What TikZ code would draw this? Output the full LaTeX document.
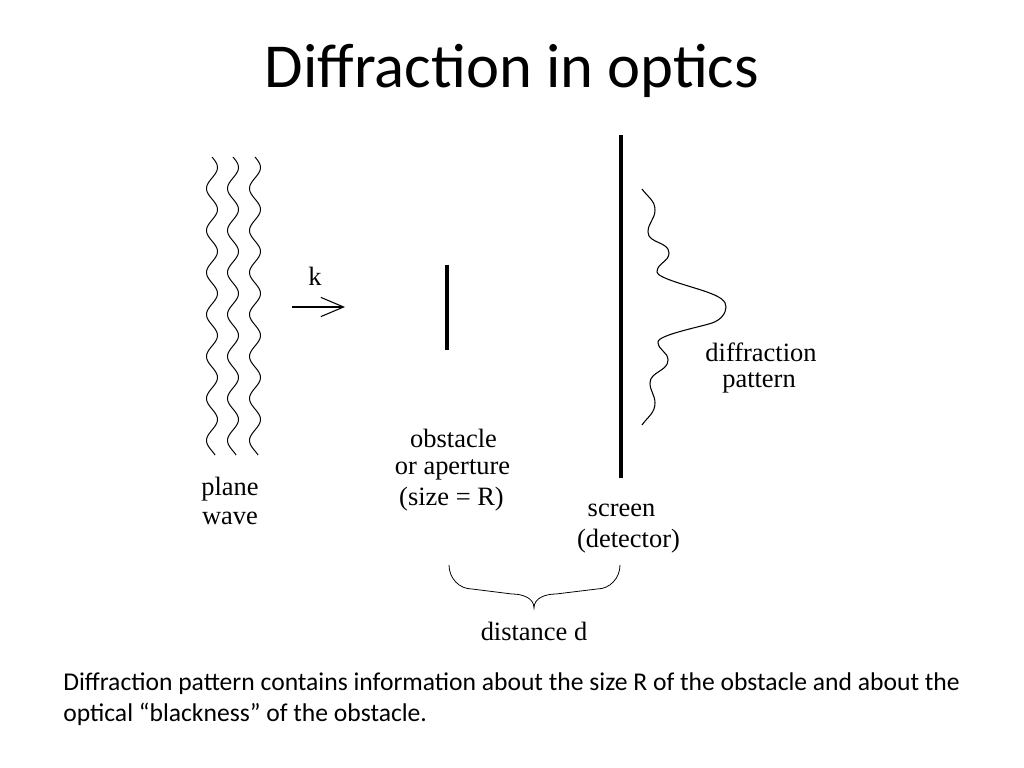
\documentclass[tikz,border=0pt]{standalone}
\usepackage{fontspec}
\setmainfont{Liberation Serif}
\newfontfamily\slidefont{Carlito}
\usetikzlibrary{arrows.meta}
\begin{document}
\begin{tikzpicture}[x=0.703125pt,y=0.703125pt,
  lbl/.style={font=\fontsize{18.6}{20}\selectfont, anchor=base, inner sep=0pt},
  bodytext/.style={font=\slidefont\fontsize{18}{22}\selectfont, anchor=base west, inner sep=0pt},
  wavy/.style={line width=0.7pt},
  thinline/.style={line width=0.75pt},
  kvec/.style={line width=0.75pt, -{Straight Barb[length=16pt,width=13.5pt]}}]
\useasboundingbox (0,0) rectangle (1024,-768);
\fill[white] (0,0) rectangle (1024,-768);
% title
\node[anchor=base, inner sep=0pt, font=\slidefont\fontsize{44}{53}\selectfont] (title) at (512,-88) {Diffraction in optics};
% plane waves
\foreach \c in {212,233,255}
  \draw[wavy] plot[domain=0:298, samples=200, smooth] ({\c+5.5*sin(\x*8.5714)},{-157-\x});
% wave vector
\coordinate (kstart) at (292,-307);
\coordinate (kend) at (345,-307);
\draw[kvec] (kstart) -- (kend);
\node[lbl] (k) at (315,-286) {k};
% obstacle
\coordinate (obstop) at (447,-265);
\coordinate (obsbot) at (447,-350);
\draw[line width=2.8pt] (obstop) -- (obsbot);
% screen
\coordinate (scrtop) at (621,-135);
\coordinate (scrbot) at (621,-478);
\draw[line width=2.2pt] (scrtop) -- (scrbot);
% diffraction pattern
\draw[thinline] (642,-189) to[out=-55,in=90] (655,-210) to[out=-90,in=90] (648,-232)
  to[out=-90,in=90] (669,-253) to[out=-90,in=90] (657,-272)
  .. controls (657,-278) and (690,-286) .. (707,-292)
  .. controls (721,-297) and (726,-301) .. (726,-307)
  .. controls (726,-313) and (721,-320) .. (712,-323)
  .. controls (700,-327) and (658,-335) .. (658,-342)
  to[out=-90,in=90] (668,-360) to[out=-90,in=90] (650,-383)
  to[out=-90,in=90] (655,-403) to[out=-90,in=55] (642,-425);
% labels
\node[lbl] (plane) at (230,-495) {plane};
\node[lbl] (wave) at (230,-524) {wave};
\node[lbl] (obs1) at (453.5,-447) {obstacle};
\node[lbl] (obs2) at (452.5,-474) {or aperture};
\node[lbl] (obs3) at (451.5,-505) {(size = R)};
\node[lbl] (dif1) at (761,-361) {diffraction};
\node[lbl] (dif2) at (759,-387) {pattern};
\node[lbl] (scr1) at (621.5,-516) {screen};
\node[lbl] (scr2) at (628.5,-547) {(detector)};
% brace
\draw[line width=0.55pt] (449,-565) to[out=-90,in=180] (472,-589) -- (512,-594)
  to[out=0,in=90] (534,-608) to[out=90,in=180] (556,-594) -- (597,-589)
  to[out=0,in=-90] (620,-565);
\node[lbl] (dist) at (534,-640) {distance d};
% body text
\node[bodytext] (body1) at (63,-690) {Diffraction pattern contains information about the size R of the obstacle and about the};
\node[bodytext] (body2) at (63,-721) {optical “blackness” of the obstacle.};
\end{tikzpicture}
\end{document}
